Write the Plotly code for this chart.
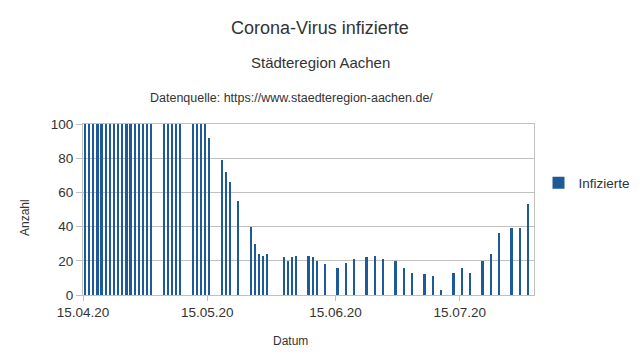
import plotly.graph_objects as go

# Data (values above 100 are clipped in the reference; estimated)
dates = [
    "2020-04-15", "2020-04-16", "2020-04-17", "2020-04-18", "2020-04-19", "2020-04-20",
    "2020-04-21", "2020-04-22", "2020-04-23", "2020-04-24", "2020-04-25", "2020-04-26",
    "2020-04-27", "2020-04-28", "2020-04-29", "2020-04-30", "2020-05-01",
    "2020-05-04", "2020-05-05", "2020-05-06", "2020-05-07", "2020-05-08",
    "2020-05-11", "2020-05-12", "2020-05-13", "2020-05-14", "2020-05-15",
    "2020-05-18", "2020-05-19", "2020-05-20", "2020-05-22",
    "2020-05-25", "2020-05-26", "2020-05-27", "2020-05-28", "2020-05-29",
    "2020-06-02", "2020-06-03", "2020-06-04", "2020-06-05",
    "2020-06-08", "2020-06-09", "2020-06-10", "2020-06-12",
    "2020-06-15", "2020-06-17", "2020-06-19",
    "2020-06-22", "2020-06-24", "2020-06-26",
    "2020-06-29", "2020-07-01", "2020-07-03",
    "2020-07-06", "2020-07-08", "2020-07-10",
    "2020-07-13", "2020-07-15", "2020-07-17",
    "2020-07-20", "2020-07-22", "2020-07-24",
    "2020-07-27", "2020-07-29", "2020-07-31",
]
infizierte = [
    412, 398, 385, 366, 351, 340, 322, 301, 286, 270, 255, 240, 228, 209, 193, 178, 162,
    149, 141, 133, 125, 118,
    112, 108, 104, 101, 92,
    79, 72, 66, 55,
    40, 30, 24, 23, 24,
    22, 20, 22, 23,
    23, 22, 20, 18,
    16, 19, 21,
    22, 23, 21,
    20, 16, 13,
    12, 11, 3,
    13, 16, 13,
    20, 24, 36,
    39, 39, 53,
]

series_name = "Infizierte"
tick_dates = ["2020-04-15", "2020-05-15", "2020-06-15", "2020-07-15"]

BAR = "#1f5a98"
GRID = "#c0c0c0"
TXT = "#333333"
FONT = "Liberation Sans, Arial, sans-serif"

fig = go.Figure()
fig.add_trace(go.Bar(
    x=dates, y=infizierte, name=series_name,
    marker=dict(color=BAR, line=dict(width=0)),
    width=0.55 * 86400000,
    xperiod=86400000, xperiodalignment="middle",
    showlegend=True,
))

fig.update_layout(
    width=640, height=358,
    margin=dict(l=83, r=106, t=124, b=63, autoexpand=False),
    paper_bgcolor="white", plot_bgcolor="white",
    font=dict(family=FONT, color=TXT),
    showlegend=True,
    legend=dict(x=1.01, y=0.655, xanchor="left", yanchor="middle",
                font=dict(size=13.5, color=TXT), bgcolor="rgba(0,0,0,0)",
                itemwidth=30),
    bargap=0,
)

fig.update_xaxes(
    type="date", automargin=False,
    range=["2020-04-15 00:00", "2020-08-01 23:00"],
    tickvals=tick_dates, tickformat="%d.%m.%y",
    ticks="outside", ticklen=5, tickcolor=GRID,
    showgrid=False, showline=True, linecolor=GRID, mirror=True,
    tickfont=dict(size=13.5, color=TXT),
)
fig.update_yaxes(
    automargin=False,
    range=[0, 100], tickvals=[0, 20, 40, 60, 80, 100],
    ticks="outside", ticklen=6, tickcolor=GRID,
    showgrid=True, gridcolor=GRID, gridwidth=1,
    showline=True, linecolor=GRID, mirror=True,
    zeroline=False,
    tickfont=dict(size=13.5, color=TXT),
)

annotations = [
    dict(text="Corona-Virus infizierte", x=0.5255, y=1.561, size=18),
    dict(text="Städteregion Aachen", x=0.5255, y=1.357, size=15),
    dict(text="Datenquelle: https://www.staedteregion-aachen.de/", x=0.462, y=1.152, size=12.5),
    dict(text="Datum", x=0.459, y=-0.269, size=12),
]
for a in annotations:
    fig.add_annotation(text=a["text"], x=a["x"], y=a["y"], xref="paper", yref="paper",
                       xanchor="center", yanchor="middle", showarrow=False,
                       font=dict(size=a["size"], color=TXT, family=FONT))
fig.add_annotation(text="Anzahl", x=-0.1286, y=0.45, xref="paper", yref="paper",
                   xanchor="center", yanchor="middle", showarrow=False, textangle=-90,
                   font=dict(size=12, color=TXT, family=FONT))

fig.write_html("out.html", config={"displayModeBar": False},
               post_script="document.body.style.margin='0';")
